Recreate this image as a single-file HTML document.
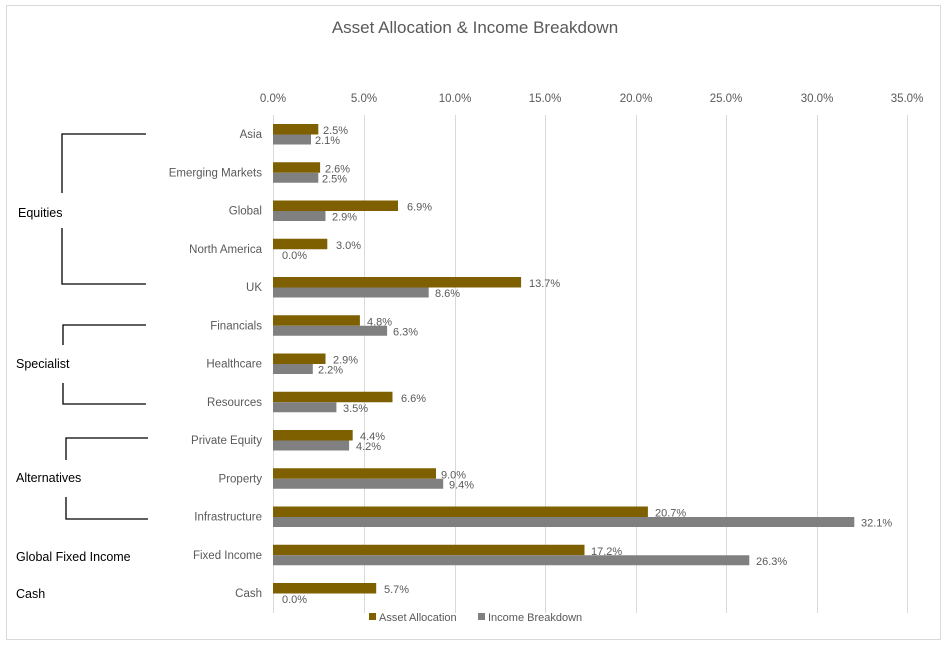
<!DOCTYPE html>
<html><head><meta charset="utf-8"><style>
body{margin:0;background:#fff}
text{font-family:"Liberation Sans",sans-serif;fill:#595959}
.c{font-size:11.5px;text-anchor:end}
.v{font-size:11px}
.g{font-size:12.5px;fill:#000}
</style></head><body>
<svg width="947" height="642" xmlns="http://www.w3.org/2000/svg">
<rect x="6.5" y="5.5" width="934" height="634" fill="#fff" stroke="#d9d9d9"/>
<text x="475" y="33" font-size="17" text-anchor="middle">Asset Allocation &amp; Income Breakdown</text>
<g stroke="#d9d9d9" stroke-width="1">
<line x1="273.5" y1="115" x2="273.5" y2="613"/><line x1="364.5" y1="115" x2="364.5" y2="613"/><line x1="455.5" y1="115" x2="455.5" y2="613"/><line x1="545.5" y1="115" x2="545.5" y2="613"/><line x1="636.5" y1="115" x2="636.5" y2="613"/><line x1="726.5" y1="115" x2="726.5" y2="613"/><line x1="817.5" y1="115" x2="817.5" y2="613"/><line x1="907.5" y1="115" x2="907.5" y2="613"/>
</g>
<g font-size="11.5" text-anchor="middle">
<text x="273" y="102">0.0%</text><text x="364" y="102">5.0%</text><text x="455" y="102">10.0%</text><text x="545" y="102">15.0%</text><text x="636" y="102">20.0%</text><text x="726" y="102">25.0%</text><text x="817" y="102">30.0%</text><text x="907" y="102">35.0%</text>
</g>
<g stroke="#000" stroke-width="1.3" fill="none">
<polyline points="146,134 62,134 62,193"/><polyline points="62,228 62,284 146,284"/>
<polyline points="146,325 63,325 63,345"/><polyline points="63,383 63,404 146,404"/>
<polyline points="148,438 66,438 66,460"/><polyline points="66,497 66,519 148,519"/>
</g>
<text class="g" x="18" y="217">Equities</text>
<text class="g" x="16" y="368">Specialist</text>
<text class="g" x="16" y="482">Alternatives</text>
<text class="g" x="16" y="561">Global Fixed Income</text>
<text class="g" x="16" y="598">Cash</text>
<g id="rows">
<g transform="translate(0,124)"><text class="c" x="262" y="14">Asia</text><rect x="273" y="0" width="45.3" height="10.5" fill="#7f6000"/><rect x="273" y="10.5" width="38" height="10" fill="#808080"/><text class="v" x="323" y="10">2.5%</text><text class="v" x="315" y="20">2.1%</text></g>
<g transform="translate(0,162.25)"><text class="c" x="262" y="14">Emerging Markets</text><rect x="273" y="0" width="47.1" height="10.5" fill="#7f6000"/><rect x="273" y="10.5" width="45.3" height="10" fill="#808080"/><text class="v" x="325" y="10">2.6%</text><text class="v" x="322" y="20">2.5%</text></g>
<g transform="translate(0,200.5)"><text class="c" x="262" y="14">Global</text><rect x="273" y="0" width="125" height="10.5" fill="#7f6000"/><rect x="273" y="10.5" width="52.5" height="10" fill="#808080"/><text class="v" x="407" y="10">6.9%</text><text class="v" x="332" y="20">2.9%</text></g>
<g transform="translate(0,238.75)"><text class="c" x="262" y="14">North America</text><rect x="273" y="0" width="54.3" height="10.5" fill="#7f6000"/><text class="v" x="336" y="10">3.0%</text><text class="v" x="282" y="20">0.0%</text></g>
<g transform="translate(0,277)"><text class="c" x="262" y="14">UK</text><rect x="273" y="0" width="248.1" height="10.5" fill="#7f6000"/><rect x="273" y="10.5" width="155.7" height="10" fill="#808080"/><text class="v" x="529" y="10">13.7%</text><text class="v" x="435" y="20">8.6%</text></g>
<g transform="translate(0,315.25)"><text class="c" x="262" y="14">Financials</text><rect x="273" y="0" width="86.9" height="10.5" fill="#7f6000"/><rect x="273" y="10.5" width="114.1" height="10" fill="#808080"/><text class="v" x="367" y="10">4.8%</text><text class="v" x="393" y="20">6.3%</text></g>
<g transform="translate(0,353.5)"><text class="c" x="262" y="14">Healthcare</text><rect x="273" y="0" width="52.5" height="10.5" fill="#7f6000"/><rect x="273" y="10.5" width="39.8" height="10" fill="#808080"/><text class="v" x="333" y="10">2.9%</text><text class="v" x="318" y="20">2.2%</text></g>
<g transform="translate(0,391.75)"><text class="c" x="262" y="14">Resources</text><rect x="273" y="0" width="119.5" height="10.5" fill="#7f6000"/><rect x="273" y="10.5" width="63.4" height="10" fill="#808080"/><text class="v" x="401" y="10">6.6%</text><text class="v" x="343" y="20">3.5%</text></g>
<g transform="translate(0,430)"><text class="c" x="262" y="14">Private Equity</text><rect x="273" y="0" width="79.7" height="10.5" fill="#7f6000"/><rect x="273" y="10.5" width="76.1" height="10" fill="#808080"/><text class="v" x="360" y="10">4.4%</text><text class="v" x="356" y="20">4.2%</text></g>
<g transform="translate(0,468.25)"><text class="c" x="262" y="14">Property</text><rect x="273" y="0" width="163" height="10.5" fill="#7f6000"/><rect x="273" y="10.5" width="170.2" height="10" fill="#808080"/><text class="v" x="441" y="10">9.0%</text><text class="v" x="449" y="20">9.4%</text></g>
<g transform="translate(0,506.5)"><text class="c" x="262" y="14">Infrastructure</text><rect x="273" y="0" width="374.9" height="10.5" fill="#7f6000"/><rect x="273" y="10.5" width="581.3" height="10" fill="#808080"/><text class="v" x="655" y="10">20.7%</text><text class="v" x="861" y="20">32.1%</text></g>
<g transform="translate(0,544.75)"><text class="c" x="262" y="14">Fixed Income</text><rect x="273" y="0" width="311.5" height="10.5" fill="#7f6000"/><rect x="273" y="10.5" width="476.3" height="10" fill="#808080"/><text class="v" x="591" y="10">17.2%</text><text class="v" x="756" y="20">26.3%</text></g>
<g transform="translate(0,583)"><text class="c" x="262" y="14">Cash</text><rect x="273" y="0" width="103.2" height="10.5" fill="#7f6000"/><text class="v" x="384" y="10">5.7%</text><text class="v" x="282" y="20">0.0%</text></g>
</g>
<rect x="369" y="613" width="7" height="7" fill="#7f6000"/><text x="379" y="621" font-size="11">Asset Allocation</text>
<rect x="478" y="613" width="7" height="7" fill="#808080"/><text x="488" y="621" font-size="11">Income Breakdown</text>
</svg>
</body></html>
